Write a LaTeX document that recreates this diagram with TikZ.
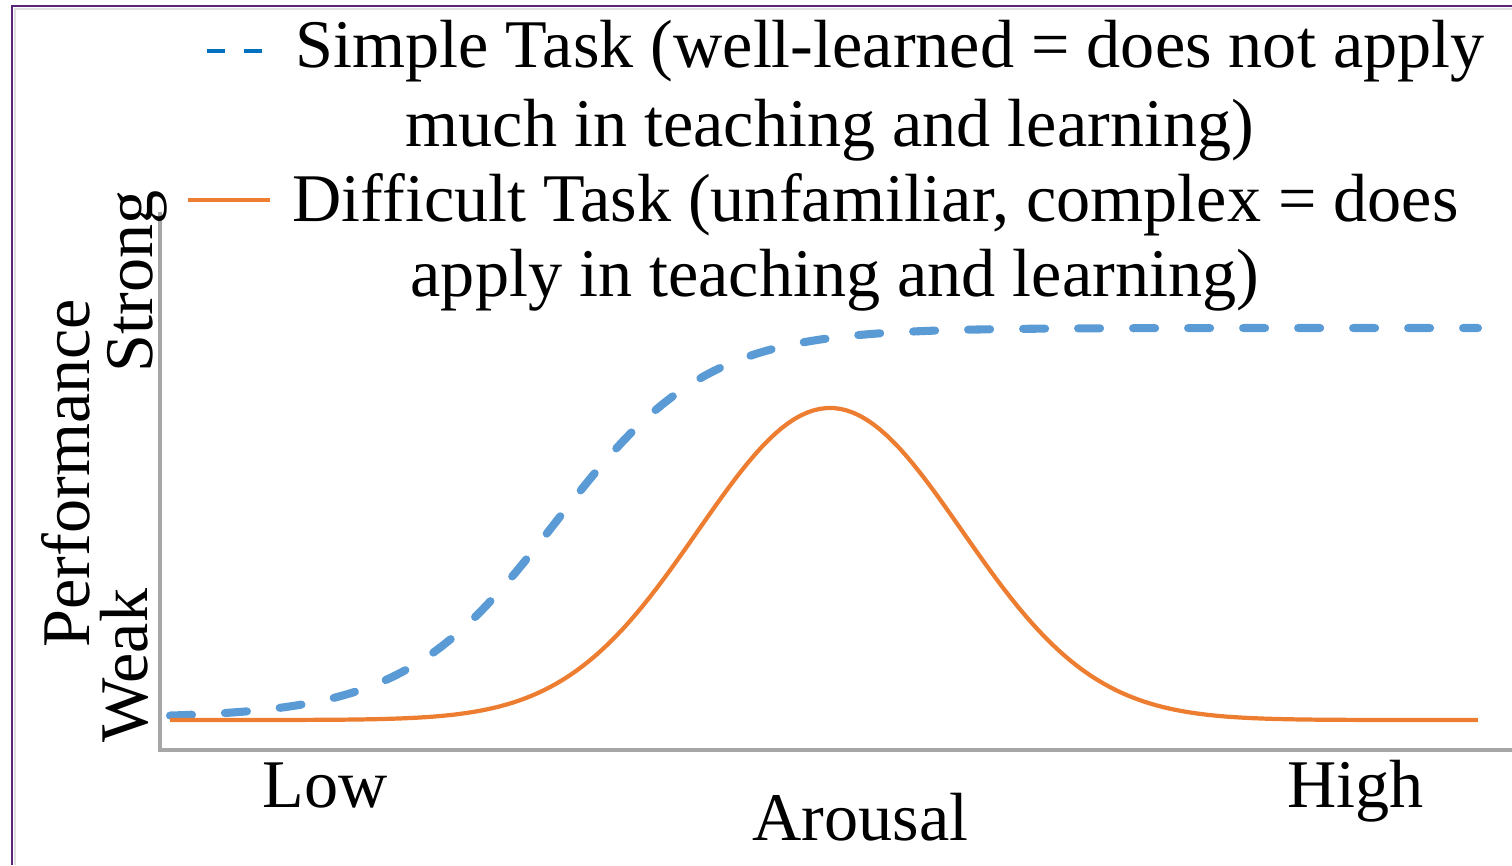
\documentclass[tikz,border=0pt]{standalone}
\usepackage{fontspec}
\setmainfont{Liberation Serif}
\usepackage{xcolor}
\usepackage{tikz}
\definecolor{simpleblue}{RGB}{91, 155, 213}
\definecolor{legendblue}{RGB}{0, 112, 192}
\definecolor{hardorange}{RGB}{237, 125, 49}
\definecolor{axisgray}{RGB}{166, 166, 166}
\definecolor{framepurple}{RGB}{92, 36, 120}

\tikzset{
    lbl/.style={inner sep=0pt, font=\fontsize{19.4}{23}\selectfont},
    simplecurve/.style={simpleblue, line width=2.3pt, line cap=round, dash pattern=on 0.22cm off 0.33cm},
    hardcurve/.style={hardorange, line width=1.2pt}
}

\begin{document}
\begin{tikzpicture}
    \useasboundingbox (0,0) rectangle (15.12,8.65);

    % Frame
    \draw[framepurple, line width=0.6pt] (0.12,0) -- (0.12,8.59) -- (15.12,8.59);
    \draw[black!12, line width=0.5pt] (0.15,0) -- (0.15,8.56) -- (15.12,8.56);

    % Axes
    \coordinate (origin) at (1.60,1.15);
    \coordinate (ytop) at (1.60,6.53);
    \coordinate (xend) at (15.12,1.15);
    \draw[axisgray, line width=0.9pt] (ytop) -- (origin) -- (xend);

    % Curves
    \draw[simplecurve] plot[domain=1.70:14.78, samples=160]
        (\x, {1.47+3.90/(1+exp(-(\x-5.55)/0.76))});
    \draw[hardcurve] plot[domain=1.70:14.78, samples=200]
        (\x, {1.45+3.12*exp(-0.5*pow((\x-8.30)/1.32,2))});

    % Legend
    \foreach \x in {2.07,2.44} {
        \draw[legendblue, line width=1.4pt] (\x,8.14) -- ++(0.18,0);
    }
    \coordinate (hardkeyA) at (1.88,6.65);
    \coordinate (hardkeyB) at (2.70,6.65);
    \draw[hardorange, line width=1.2pt] (hardkeyA) -- (hardkeyB);

    \node[lbl, anchor=base west] (simpleA) at (2.95,7.98) {Simple Task (well-learned = does not apply};
    \node[lbl, anchor=base west] (simpleB) at (4.05,7.19) {much in teaching and learning)};
    \node[lbl, anchor=base west] (hardA) at (2.92,6.44) {Difficult Task (unfamiliar, complex = does};
    \node[lbl, anchor=base west] (hardB) at (4.10,5.69) {apply in teaching and learning)};

    % Axis labels
    \node[lbl, anchor=base west, rotate=90] (strong) at (1.52,4.92) {Strong};
    \node[lbl, anchor=base west, rotate=90] (perf) at (0.89,2.17) {Performance};
    \node[lbl, anchor=base west, rotate=90] (weak) at (1.47,1.22) {Weak};

    \node[lbl, anchor=base west] (low) at (2.62,0.58) {Low};
    \node[lbl, anchor=base west] (high) at (12.87,0.58) {High};
    \node[lbl, anchor=base west] (arousal) at (7.52,0.25) {Arousal};
\end{tikzpicture}
\end{document}
